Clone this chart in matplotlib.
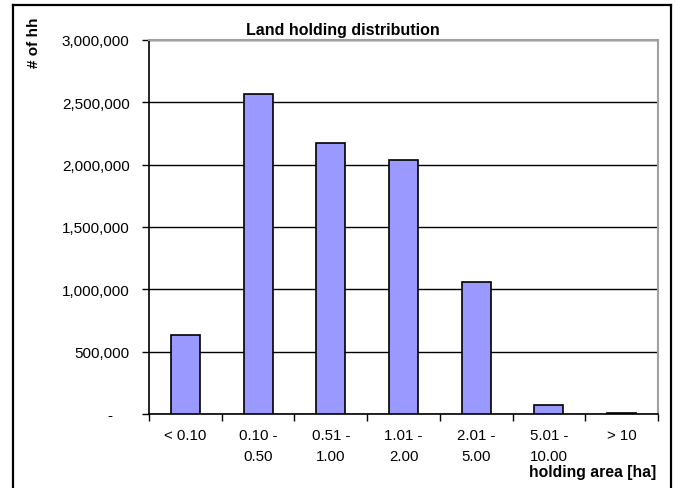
import matplotlib
matplotlib.use("Agg")
import matplotlib.pyplot as plt
from matplotlib.lines import Line2D
from matplotlib.ticker import FuncFormatter, FixedLocator

plt.rcParams['font.family'] = ['Liberation Sans', 'DejaVu Sans']

categories = ["< 0.10", "0.10 -\n0.50", "0.51 -\n1.00", "1.01 -\n2.00",
              "2.01 -\n5.00", "5.01 -\n10.00", "> 10"]
households = [636000, 2570000, 2170000, 2035000, 1055000, 70000, 12000]
y_ticks = [0, 500000, 1000000, 1500000, 2000000, 2500000, 3000000]

fig = plt.figure(figsize=(6.75, 4.89), dpi=100)
ax = fig.add_axes([149 / 675, 1 - 415 / 489, 509 / 675, 374 / 489])

x = list(range(len(categories)))
ax.bar(x, households, width=0.4, color="#9999ff", edgecolor="black",
       linewidth=1.2, zorder=3)

ax.set_xlim(-0.5, len(categories) - 0.5)
ax.set_ylim(0, 3000000)
ax.set_yticks(y_ticks)
ax.yaxis.set_major_formatter(FuncFormatter(
    lambda v, pos: "-    " if v == 0 else f"{v:,.0f}"))
ax.grid(axis="y", color="black", linewidth=1, zorder=1)

# category labels sit between the boundary ticks
ax.set_xticks(x)
ax.set_xticklabels(categories, linespacing=1.65)
ax.xaxis.set_minor_locator(FixedLocator([i - 0.5 for i in range(len(categories) + 1)]))
ax.tick_params(axis="x", which="major", length=0, pad=10, labelsize=10.8)
ax.tick_params(axis="x", which="minor", length=5, width=1, direction="out")
ax.tick_params(axis="y", length=5, width=1, pad=9, labelsize=11)

for side in ("left", "bottom"):
    ax.spines[side].set_color("black")
    ax.spines[side].set_linewidth(1.2)
for side in ("top", "right"):
    ax.spines[side].set_color("#a0a0a0")
    ax.spines[side].set_linewidth(1.5)

fig.text(343 / 675, 1 - 30 / 489, "Land holding distribution",
         ha="center", va="center", fontsize=11.5, fontweight="bold")
fig.text(34 / 675, 1 - 18 / 489, "# of hh", rotation=90,
         ha="center", va="top", fontsize=11, fontweight="bold")
fig.text(656 / 675, 1 - 472 / 489, "holding area [ha]",
         ha="right", va="center", fontsize=11.3, fontweight="bold")

# outer chart frame, open at the bottom
fl, fr, ft = 13 / 675, 671 / 675, 1 - 6 / 489
for xs, ys in (([fl, fl], [0, ft]), ([fl, fr], [ft, ft]), ([fr, fr], [ft, 0])):
    fig.add_artist(Line2D(xs, ys, color="black", linewidth=1.6,
                          transform=fig.transFigure))

fig.savefig("out.png", dpi=100)
